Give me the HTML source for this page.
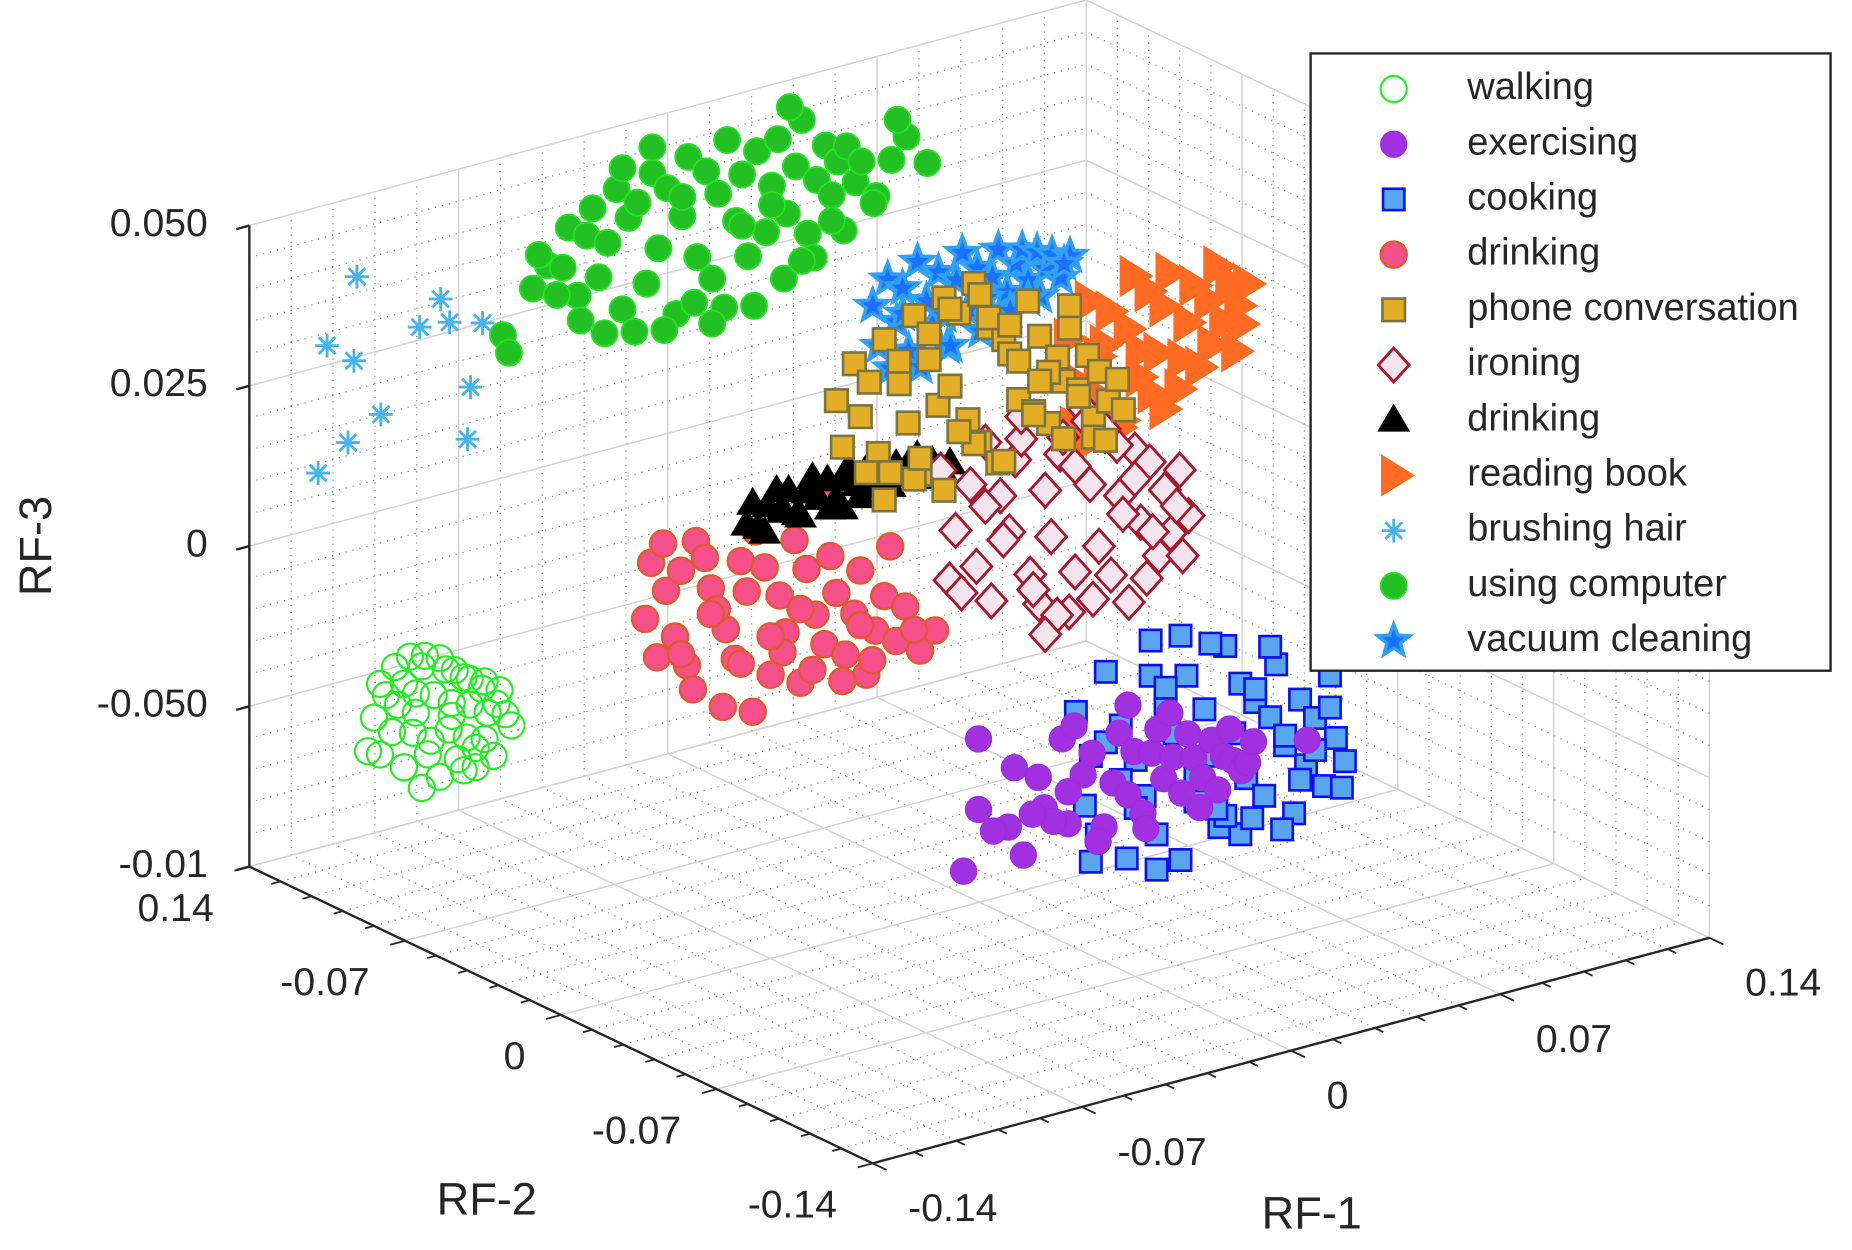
<!DOCTYPE html>
<html><head><meta charset="utf-8"><style>
html,body{margin:0;padding:0;background:#fff;}
svg{display:block;font-family:"Liberation Sans",Arial,sans-serif;}
</style></head><body>
<svg id="chart" width="1852" height="1250" viewBox="0 0 1560 1053" xmlns="http://www.w3.org/2000/svg">
<g id="grid"></g>
<g id="axes"></g>
<g id="marks"></g>
<g id="legend"></g>
</svg>
<script>
const rf1Ticks = ["-0.14","-0.07","0","0.07","0.14"];
const rf2Ticks = ["-0.14","-0.07","0","-0.07","0.14"];
const rf3Ticks = ["-0.01","-0.050","0","0.025","0.050"];
const seriesNames = ["walking","exercising","cooking","drinking","phone conversation","ironing","drinking","reading book","brushing hair","using computer","vacuum cleaning"];

const walkingCenter = [-0.118, 0.084, -0.039];
const walkingOff1 = [-20,-15,-10,-5,0,5,10,15,20,-18,-12,-6,2,8,14,19,-22,-14,-8,-2,4,10,16,22,-16,-9,-3,3,9,15,-12,-4,6,12,18,-20,0,8,-8,4,-24,24,-6,12];
const walkingOff3 = [14,18,20,19,17,12,8,6,2,10,12,16,13,9,4,-2,4,6,8,6,2,0,-4,-6,-2,-4,-8,-6,-10,-12,-14,-12,-16,-14,-18,-8,-20,-20,2,-2,-6,-10,-22,-20];
const exerCenter = [0.008, -0.056, -0.042];
const exerOff1 = [-50,-50,-55,-40,-38,-30,-28,-22,-20,-15,-12,-10,-5,-3,0,2,5,8,10,12,15,18,20,22,25,28,30,32,35,38,40,-35,-25,-18,-8,0,6,14,24,34,42,60,-45,-32,-20,-10];
const exerOff3 = [22,0,-18,-8,10,5,-5,15,-12,2,8,-20,-3,12,-8,5,-15,3,10,-6,0,-12,6,-2,-9,2,-14,-4,-6,-10,-8,-18,-10,18,-16,20,-20,14,-18,4,-2,-6,-8,-6,-2,-20];
const cookCenter = [0.046, -0.042, -0.047];
const cookOff1 = [-45,-40,-42,-35,-30,-38,-28,-25,-20,-22,-15,-18,-10,-12,-5,-8,0,-2,5,3,8,10,12,15,18,20,22,25,28,30,32,35,38,40,42,45,-30,-20,-10,0,10,20,30,40,-35,-25,-15,-5,5,15,25,35,-40,-18,2,24,44,14];
const cookOff3 = [20,5,-10,30,12,-20,-30,0,25,-12,15,-25,35,5,-18,22,-5,10,28,-28,0,15,-15,8,-22,2,18,-8,-30,5,-16,-2,-24,0,-10,-18,-5,36,-35,30,-32,24,-20,10,8,-15,20,-10,-25,12,-5,-12,-28,-36,-22,-34,-26,-28];
const redCenter = [-0.049, 0.028, -0.006];
const redOff1 = [-40,-42,-35,-38,-30,-32,-25,-28,-20,-22,-15,-18,-10,-12,-5,-8,0,-2,5,3,8,10,12,15,18,20,22,25,28,30,32,35,38,42,45,50,55,-36,-26,-16,-6,4,14,24,34,-30,-10,10,30,0,20,-20,40,48];
const redOff3 = [25,8,15,-5,20,0,28,-10,12,22,-2,5,18,-12,26,8,-20,14,-8,4,20,-25,10,-5,-15,12,0,-20,-8,5,-28,-15,-5,-20,-10,-25,-20,30,-18,-26,-30,-14,-22,-28,-24,-6,-14,-2,-12,-8,30,4,10,-18];
const phoneCenter = [0.019, 0.028, 0.049];
const phoneOff1 = [-46,-44,-40,-38,-35,-32,-30,-28,-25,-22,-20,-18,-15,-12,-10,-8,-5,-2,0,2,5,8,10,12,15,18,20,22,25,28,30,32,35,38,40,42,45,48,50,-30,-20,-10,0,10,20,30,40,-25,-15,-5,5,15,25,35,-18,-8,2,12,22,32,44,-36];
const phoneOff3 = [5,-10,15,-2,8,-15,20,-22,12,-8,25,-25,18,-5,28,0,22,-12,30,-20,15,-28,10,5,-10,20,-15,8,-20,0,-8,15,-12,-2,-22,-8,-18,-12,-22,-30,-26,-32,-20,-28,-16,-26,-28,5,10,-15,18,2,-4,-14,-20,24,26,14,-6,8,-30,-20];
const ironCenter = [0.032, 0.0, 0.013];
const ironOff1 = [-45,-40,-42,-35,-30,-33,-25,-28,-20,-22,-15,-18,-10,-12,-5,-8,0,-2,5,3,8,10,12,15,18,20,22,25,28,30,32,35,38,-38,-24,-14,-4,6,16,26,36,-30,-18,-6,4,14,24,34,-10,10,20,0];
const ironOff3 = [25,5,-10,18,30,-8,12,-20,22,0,-15,28,10,-25,20,-5,15,-30,8,32,-12,22,-22,2,-32,15,-8,10,-20,0,-14,5,-10,-15,-2,-20,25,-28,-4,-12,-22,10,35,-30,28,18,-26,-6,-35,24,6,-18];
const blackCenter = [-0.025, 0.028, 0.027];
const blackOff1 = [-32,-30,-28,-25,-22,-20,-18,-15,-12,-10,-8,-5,-2,0,2,5,8,10,12,15,18,20,22,25,28,30,33,36,-26,-14,-4,6,16,26,-20,0];
const blackOff3 = [-4,2,-6,0,4,-3,3,-5,1,5,-2,3,-4,2,5,-1,3,-3,4,0,2,-2,1,3,-1,0,-3,-2,-8,-6,-6,-5,-4,-4,-2,-7];
const readCenter = [0.082, 0.028, 0.044];
const readOff1 = [-32,-28,-30,-25,-22,-20,-18,-15,-12,-10,-8,-5,-2,0,2,5,8,10,12,15,18,20,22,25,28,-26,-14,-4,6,16,26,-20,0,12,24,-8];
const readOff3 = [10,-5,-18,20,2,-12,15,-22,8,24,-8,18,-2,12,22,-15,5,16,-10,10,20,2,14,6,12,-24,-20,-14,-6,-4,0,5,-20,-10,-8,0];
const brushRF1 = [-0.104,-0.076,-0.114,-0.083,-0.073,-0.062,-0.105,-0.066,-0.096,-0.107,-0.067,-0.117];
const brushRF3 = [0.075,0.061,0.056,0.054,0.053,0.050,0.049,0.031,0.030,0.024,0.015,0.017];
const brushRF2 = 0.14;
const compCenter = [-0.006, 0.112, 0.077];
const compOff1 = [-70,-68,-60,-55,-58,-50,-48,-45,-42,-40,-38,-35,-32,-30,-28,-25,-22,-20,-18,-15,-12,-10,-8,-5,-2,0,2,5,8,10,12,15,18,20,22,25,28,30,32,35,38,40,42,45,48,50,55,60,65,72,-52,-44,-36,-26,-16,-6,4,14,24,34,44,54,-30,-20,-10,0,10,20,30,40,26,62];
const compOff3 = [-18,-24,-6,0,4,-2,10,-12,6,14,-8,2,18,-20,8,12,-14,20,-4,14,-26,4,22,-10,16,-18,8,24,-2,12,-14,18,-8,6,20,-4,10,24,-12,4,14,-2,8,12,0,6,-6,4,10,0,-10,-20,-26,-28,-30,-24,-28,-30,-24,-20,-14,-8,24,28,10,-32,-4,0,-20,-10,29,16];
const vacCenter = [0.036, 0.056, 0.061];
const vacOff1 = [-30,-28,-25,-22,-20,-18,-15,-12,-10,-8,-5,-2,0,2,5,8,10,12,15,18,20,22,25,28,30,33,36,-24,-14,-4,6,16,26,-20,-6,8,22,34];
const vacOff3 = [5,-8,12,-2,8,-12,15,2,-6,10,-14,6,14,-4,8,-10,4,12,-2,6,10,0,8,2,6,-2,4,-16,-18,-14,-12,-8,-6,0,-4,-2,-6,2];

const NS = "http://www.w3.org/2000/svg";
const X0=-0.14,X1=0.14,Z0=-0.1,Z1=0.1;
function projF(a,b,c){return [735+705*a-525*b, 980-190*a-250*b-540*c];}
function proj(x,y,z){return projF((x-X0)/(X1-X0),(y-X0)/(X1-X0),(z-Z0)/(Z1-Z0));}
function el(tag,attrs,parent){const e=document.createElementNS(NS,tag);for(const k in attrs)e.setAttribute(k,attrs[k]);parent.appendChild(e);return e;}

const grid=document.getElementById('grid');
function gl(p,q,major){
  const l=el('line',{x1:p[0],y1:p[1],x2:q[0],y2:q[1],stroke:major?'#d4d4d4':'#8a8a8a','stroke-width':major?1.3:1.1,'stroke-dasharray':major?'none':'1 5'},grid);
  
  
}
for(let i=0;i<=20;i++){
  const f=i/20, maj=(i%5===0);
  gl(projF(f,1,0),projF(f,1,1),maj);
  gl(projF(0,1,f),projF(1,1,f),maj);
  gl(projF(1,f,0),projF(1,f,1),maj);
  gl(projF(1,0,f),projF(1,1,f),maj);
  gl(projF(f,0,0),projF(f,1,0),maj);
  gl(projF(0,f,0),projF(1,f,0),maj);
}

const axes=document.getElementById('axes');
function line(p,q,name,w){const l=el('line',{x1:p[0],y1:p[1],x2:q[0],y2:q[1],stroke:'#262626','stroke-width':w||2},axes);return l;}
function text(x,y,s,anchor,size,name,rot){const t=el('text',{x:x,y:y,'text-anchor':anchor,'font-size':size,fill:'#262626','dominant-baseline':'middle'},axes);if(rot)t.setAttribute('transform',rot);t.textContent=s;return t;}
line(projF(0,1,0),projF(0,1,1),'rf3-axis-line');
line(projF(0,0,0),projF(0,1,0),'rf2-axis-line');
line(projF(0,0,0),projF(1,0,0),'rf1-axis-line');
rf3Ticks.forEach((s,i)=>{const p=projF(0,1,i/4);line(p,[p[0]-11,p[1]+3],'rf3-tick');text(p[0]-35,p[1],s,'end',33,'rf3-tick-label');});
for(let i=0;i<=20;i++){const f=i/20,L=(i%5===0)?13:8;
  const p=projF(0,f,0);line(p,[p[0]-L*0.965,p[1]+L*0.26],'rf2-tick',1.5);
  const q=projF(f,0,0);line(q,[q[0]+L*0.903,q[1]+L*0.43],'rf1-tick',1.5);}
rf2Ticks.forEach((s,i)=>{const p=projF(0,i/4,0);text(p[0]-30,p[1]+37,s,'end',33,'rf2-tick-label');});
rf1Ticks.forEach((s,i)=>{const p=projF(i/4,0,0);text(p[0]+30,p[1]+40,s,'start',33,'rf1-tick-label');});
text(33,460,'RF-3','middle',38,'rf3-axis-title','rotate(-90 33 460)');
text(410,1013,'RF-2','middle',38,'rf2-axis-title');
text(1105,1025,'RF-1','middle',38,'rf1-axis-title');

const styles={
 walking:{shape:'circle',fill:'none',stroke:'#22ee22',sw:1.8,r:11},
 exer:{shape:'circle',fill:'#a030e0',stroke:'#9a2edc',sw:1,r:11},
 cook:{shape:'square',fill:'#5aa6ee',stroke:'#0a10f0',sw:2.2,r:9},
 red:{shape:'circle',fill:'#f5508a',stroke:'#e05a30',sw:2,r:11},
 phone:{shape:'square',fill:'#e3ae25',stroke:'#7a7440',sw:2.2,r:9.5},
 iron:{shape:'diamond',fill:'#f3e4ee',stroke:'#a8182e',sw:2.4,r:13},
 black:{shape:'tri',fill:'#000',stroke:'#000',sw:1,r:13},
 read:{shape:'rtri',fill:'#ff6b22',stroke:'#ff6b22',sw:1,r:17},
 brush:{shape:'aster',fill:'none',stroke:'#45b4ec',sw:2.4,r:10},
 comp:{shape:'circle',fill:'#22c022',stroke:'#28e028',sw:1.5,r:11},
 vac:{shape:'star',fill:'#1a70ff',stroke:'#30a0f0',sw:3,r:14}
};
function marker(parent,st,x,y){
  let e;const r=st.r;
  if(st.shape==='circle')e=el('circle',{cx:x,cy:y,r:r},parent);
  else if(st.shape==='square')e=el('rect',{x:x-r,y:y-r,width:2*r,height:2*r},parent);
  else if(st.shape==='diamond')e=el('polygon',{points:`${x},${y-r*1.1} ${x+r},${y} ${x},${y+r*1.1} ${x-r},${y}`},parent);
  else if(st.shape==='tri')e=el('polygon',{points:`${x},${y-r} ${x+r},${y+r*0.7} ${x-r},${y+r*0.7}`},parent);
  else if(st.shape==='rtri')e=el('polygon',{points:`${x+r},${y} ${x-r*0.6},${y-r} ${x-r*0.6},${y+r}`},parent);
  else if(st.shape==='star'){let pts=[];for(let k=0;k<10;k++){const rr=k%2?r*0.42:r,ang=-Math.PI/2+k*Math.PI/5;pts.push((x+rr*Math.cos(ang)).toFixed(1)+','+(y+rr*Math.sin(ang)).toFixed(1));}e=el('polygon',{points:pts.join(' ')},parent);}
  else {let d='';for(let k=0;k<4;k++){const ang=k*Math.PI/4;d+=`M${x-r*Math.cos(ang)},${y-r*Math.sin(ang)}L${x+r*Math.cos(ang)},${y+r*Math.sin(ang)}`;}e=el('path',{d:d},parent);}
  e.setAttribute('fill',st.fill);e.setAttribute('stroke',st.stroke);e.setAttribute('stroke-width',st.sw);
  return e;
}
const marks=document.getElementById('marks');
function series(name,st,center,o1,o3){
  const g=el('g',{},marks);
  
  
  const n=Math.min(o1.length,o3.length);
  for(let i=0;i<n;i++){
    const p=proj(center[0]+o1[i]/1000,center[1],center[2]+o3[i]/1000);
    const m=marker(g,st,p[0],p[1]);
    
    
  }
}
series('walking',styles.walking,walkingCenter,walkingOff1,walkingOff3);
series('using-computer',styles.comp,compCenter,compOff1,compOff3);
(function(){const g=el('g',{},marks);
  
  
  for(let i=0;i<Math.min(brushRF1.length,brushRF3.length);i++){const p=proj(brushRF1[i],brushRF2,brushRF3[i]);const m=marker(g,styles.brush,p[0],p[1]);
    
    }})();
series('vacuum-cleaning',styles.vac,vacCenter,vacOff1,vacOff3);
series('reading-book',styles.read,readCenter,readOff1,readOff3);
series('cooking',styles.cook,cookCenter,cookOff1,cookOff3);
series('exercising',styles.exer,exerCenter,exerOff1,exerOff3);
series('drinking-red',styles.red,redCenter,redOff1,redOff3);
series('drinking-black',styles.black,blackCenter,blackOff1,blackOff3);
series('ironing',styles.iron,ironCenter,ironOff1,ironOff3);
series('phone-conversation',styles.phone,phoneCenter,phoneOff1,phoneOff3);

const legend=document.getElementById('legend');
const box=el('rect',{x:1104,y:45,width:438,height:520,fill:'#fff',stroke:'#262626','stroke-width':2},legend);


const legStyles=[styles.walking,styles.exer,styles.cook,styles.red,styles.phone,styles.iron,styles.black,styles.read,styles.brush,styles.comp,styles.vac];
seriesNames.forEach((s,i)=>{
  const y=75+i*46.5;
  const g=el('g',{},legend);
  
  
  marker(g,legStyles[i],1174,y);
  const t=el('text',{x:1236,y:y,'font-size':32,fill:'#262626','dominant-baseline':'middle'},g);
  t.textContent=s;
});
</script>
</body></html>
